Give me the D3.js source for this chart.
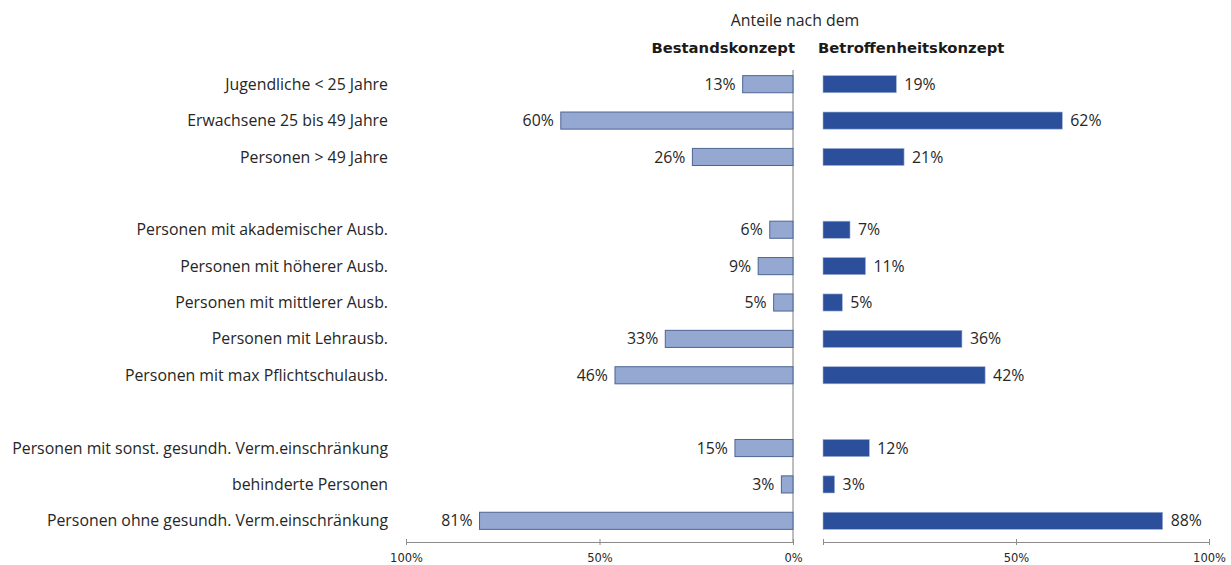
<!DOCTYPE html>
<html><head><meta charset="utf-8">
<script src="https://cdn.jsdelivr.net/npm/d3@7"></script>
<style>body{margin:0;background:#fff}</style>
</head><body>
<svg id="c" width="1231" height="565"></svg>
<script>
const categories = [
  "Jugendliche < 25 Jahre","Erwachsene 25 bis 49 Jahre","Personen > 49 Jahre","",
  "Personen mit akademischer Ausb.","Personen mit höherer Ausb.","Personen mit mittlerer Ausb.",
  "Personen mit Lehrausb.","Personen mit max Pflichtschulausb.","",
  "Personen mit sonst. gesundh. Verm.einschränkung","behinderte Personen","Personen ohne gesundh. Verm.einschränkung"
];
const bestand = [13,60,26,null,6,9,5,33,46,null,15,3,81];
const betroffen = [19,62,21,null,7,11,5,36,42,null,12,3,88];
const leftTicks = [100,50,0];
const rightTicks = [0,50,100];
const titleLine = "Anteile nach dem";
const seriesNames = ["Bestandskonzept","Betroffenheitskonzept"];

const svg = d3.select("#c");
const catFont = "'Open Sans', sans-serif";
const fs = 15.85;
const xL = d3.scaleLinear().domain([0,100]).range([793,406]);
const xR = d3.scaleLinear().domain([0,100]).range([823,1209]);
const y = d3.scaleBand().domain(d3.range(categories.length)).range([66,539]).paddingInner(0.53).paddingOuter(0.265);

svg.append("line").attr("x1",793).attr("x2",793).attr("y1",70).attr("y2",542)
  .attr("stroke","#7f7f7f").attr("stroke-width",1);

const idx = d3.range(categories.length);
svg.selectAll(".bl").data(idx.filter(i=>bestand[i]!=null)).join("rect")
  .attr("x",i=>xL(bestand[i])).attr("y",i=>y(i)).attr("width",i=>xL(0)-xL(bestand[i])).attr("height",y.bandwidth())
  .attr("fill","#95a8d2").attr("stroke","#4d6493").attr("stroke-width",1);
svg.selectAll(".br").data(idx.filter(i=>betroffen[i]!=null)).join("rect")
  .attr("x",xR(0)).attr("y",i=>y(i)).attr("width",i=>xR(betroffen[i])-xR(0)).attr("height",y.bandwidth())
  .attr("fill","#2b4f9b").attr("stroke","#9fb2d6").attr("stroke-width",0.6);

svg.selectAll(".vl").data(idx.filter(i=>bestand[i]!=null)).join("text")
  .attr("x",i=>xL(bestand[i])-7).attr("y",i=>y(i)+y.bandwidth()/2).attr("dy","0.35em")
  .attr("text-anchor","end").attr("font-family",catFont).attr("font-size",fs).attr("fill","#262626")
  .text(i=>bestand[i]+"%");
svg.selectAll(".vr").data(idx.filter(i=>betroffen[i]!=null)).join("text")
  .attr("x",i=>xR(betroffen[i])+8).attr("y",i=>y(i)+y.bandwidth()/2).attr("dy","0.35em")
  .attr("text-anchor","start").attr("font-family",catFont).attr("font-size",fs).attr("fill","#262626")
  .text(i=>betroffen[i]+"%");

svg.selectAll(".cl").data(idx.filter(i=>categories[i])).join("text")
  .attr("x",388).attr("y",i=>y(i)+y.bandwidth()/2).attr("dy","0.35em")
  .attr("text-anchor","end").attr("font-family",catFont).attr("font-size",fs).attr("fill","#262626")
  .text(i=>categories[i]);

const axL = d3.axisBottom(xL).tickValues(leftTicks).tickFormat(d=>d+"%").tickSize(4);
const gL = svg.append("g").attr("transform","translate(0,542)").call(axL);
const axR = d3.axisBottom(xR).tickValues(rightTicks).tickFormat(d=>d===0?"":d+"%").tickSize(4);
const gR = svg.append("g").attr("transform","translate(0,542)").call(axR);
[gL,gR].forEach(g=>{
  g.select(".domain").remove();
  g.selectAll(".tick line").attr("stroke","#8c8c8c").attr("y1",-3).attr("y2",3);
  g.selectAll(".tick text").attr("font-family","'DejaVu Sans', sans-serif").attr("font-size",11.5).attr("fill","#262626").attr("y",12);
});
svg.append("line").attr("x1",xL(100)).attr("x2",xL(0)).attr("y1",542.5).attr("y2",542.5).attr("stroke","#8c8c8c");
svg.append("line").attr("x1",xR(0)).attr("x2",xR(100)).attr("y1",542.5).attr("y2",542.5).attr("stroke","#8c8c8c");

svg.append("text").attr("x",795).attr("y",26).attr("text-anchor","middle")
  .attr("font-family",catFont).attr("font-size",fs).attr("fill","#262626").text(titleLine);
svg.append("text").attr("x",795).attr("y",53).attr("text-anchor","end")
  .attr("font-family","'DejaVu Sans', sans-serif").attr("font-weight","bold").attr("font-size",14.8).attr("fill","#1a1a1a").text(seriesNames[0]);
svg.append("text").attr("x",818).attr("y",53).attr("text-anchor","start")
  .attr("font-family","'DejaVu Sans', sans-serif").attr("font-weight","bold").attr("font-size",14.8).attr("fill","#1a1a1a").text(seriesNames[1]);
</script>
</body></html>
